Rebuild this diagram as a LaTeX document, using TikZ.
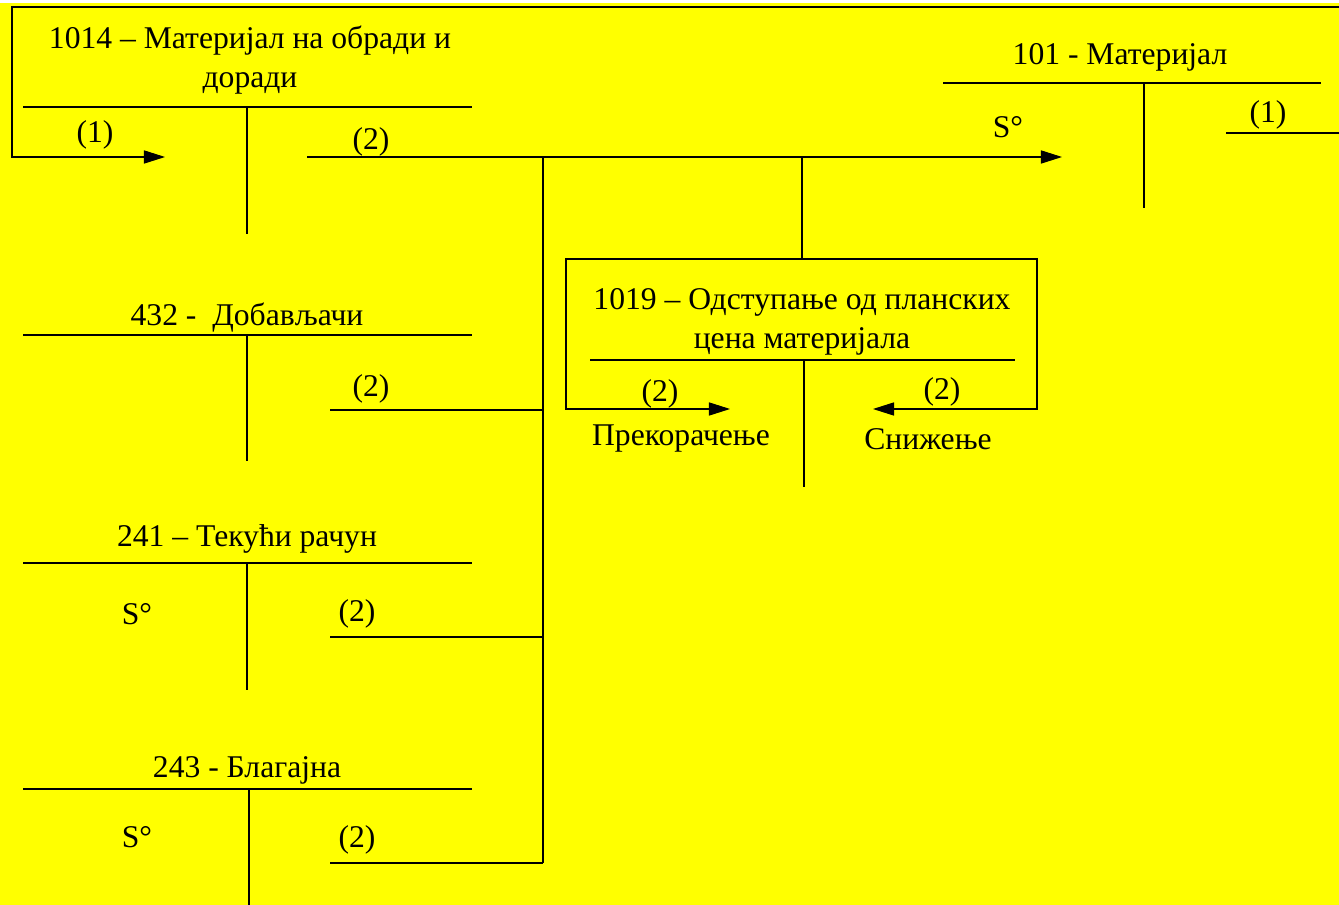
\documentclass[tikz,border=0pt]{standalone}
\usepackage{fontspec}
\setmainfont{Liberation Serif}
\usetikzlibrary{arrows.meta}
\definecolor{bgyellow}{RGB}{255,255,0}
\begin{document}
\begin{tikzpicture}[x=0.02cm,y=-0.02cm,line width=.6pt,
		lbl/.style={font=\fontsize{18}{22}\selectfont,inner sep=0pt,align=center},
		arr/.style={-{Triangle[length=12pt,width=7.5pt]}}]
		\useasboundingbox (0,0) rectangle (1339,905);
		\fill[white] (0,0) rectangle (1339,905);
		\fill[bgyellow] (0,3) rectangle (1339,905);
		% 1014
		\node[lbl] (t1014) at (250,60) {1014 – Материјал на обради и\\доради};
		\coordinate (a1014l) at (23,107);
		\coordinate (a1014r) at (472,107);
		\coordinate (a1014t) at (247,107);
		\coordinate (a1014b) at (247,234);
		\draw (a1014l)--(a1014r) (a1014t)--(a1014b);
		% 101
		\node[lbl] (t101) at (1120,57) {101 - Материјал};
		\coordinate (a101l) at (943,83);
		\coordinate (a101r) at (1321,83);
		\coordinate (a101t) at (1144,83);
		\coordinate (a101b) at (1144,208);
		\draw (a101l)--(a101r) (a101t)--(a101b);
		\node[lbl] (s101) at (1008,127) {S°};
		% 1019
		\node[lbl] (t1019) at (802,322) {1019 – Одступање од планских\\цена материјала};
		\coordinate (a1019l) at (590,360);
		\coordinate (a1019r) at (1015,360);
		\coordinate (a1019t) at (804,360);
		\coordinate (a1019b) at (804,487);
		\draw (a1019l)--(a1019r) (a1019t)--(a1019b);
		\node[lbl] (prek) at (681,439) {Прекорачење};
		\node[lbl] (snizh) at (928,439) {Снижење};
		% 432
		\node[lbl] (t432) at (247,318) {432 - \ Добављачи};
		\coordinate (a432l) at (23,335);
		\coordinate (a432r) at (472,335);
		\coordinate (a432t) at (247,335);
		\coordinate (a432b) at (247,461);
		\draw (a432l)--(a432r) (a432t)--(a432b);
		% 241
		\node[lbl] (t241) at (247,539) {241 – Текући рачун};
		\coordinate (a241l) at (23,563);
		\coordinate (a241r) at (472,563);
		\coordinate (a241t) at (247,563);
		\coordinate (a241b) at (247,690);
		\draw (a241l)--(a241r) (a241t)--(a241b);
		\node[lbl] (s241) at (137,614) {S°};
		% 243
		\node[lbl] (t243) at (247,770) {243 - Благајна};
		\coordinate (a243l) at (23,789);
		\coordinate (a243r) at (472,789);
		\coordinate (a243t) at (249,789);
		\coordinate (a243b) at (249,905);
		\draw (a243l)--(a243r) (a243t)--(a243b);
		\node[lbl] (s243) at (137,837) {S°};
		% (1)
		\coordinate (k1a) at (1226,133);
		\coordinate (k1b) at (1339,133);
		\coordinate (k1c) at (1339,7);
		\coordinate (k1d) at (12,7);
		\coordinate (k1e) at (165,157);
		\draw (k1a)--(k1b);
		\draw[arr] (k1c)--(k1d)|-(k1e);
		\node[lbl] (n1a) at (1268,115) {(1)};
		\node[lbl] (n1b) at (95,135) {(1)};
		% (2)
		\coordinate (k2a) at (307,157);
		\coordinate (k2b) at (1062,157);
		\coordinate (k2c) at (543,157);
		\coordinate (k2d) at (543,863);
		\coordinate (k2e) at (802,157);
		\coordinate (k2f) at (802,259);
		\coordinate (k2g) at (566,409);
		\coordinate (k2h) at (730,409);
		\coordinate (k2i) at (1037,409);
		\coordinate (k2j) at (873,409);
		\coordinate (k432) at (330,410);
		\coordinate (k241) at (330,637);
		\coordinate (k243) at (330,863);
		\draw[arr] (k2a)--(k2b);
		\draw (k2c)--(k2d) (k2e)--(k2f);
		\draw (k432)-|(k2c) (k241)-|(k2c) (k243)--(k2d);
		\draw[arr] (k2f)-|(k2g)--(k2h);
		\draw[arr] (k2f)-|(k2i)--(k2j);
		\node[lbl] (n2a) at (371,142) {(2)};
		\node[lbl] (n2b) at (371,389) {(2)};
		\node[lbl] (n2c) at (357,614) {(2)};
		\node[lbl] (n2d) at (357,840) {(2)};
		\node[lbl] (n2e) at (660,394) {(2)};
		\node[lbl] (n2f) at (942,392) {(2)};
	\end{tikzpicture}
\end{document}
